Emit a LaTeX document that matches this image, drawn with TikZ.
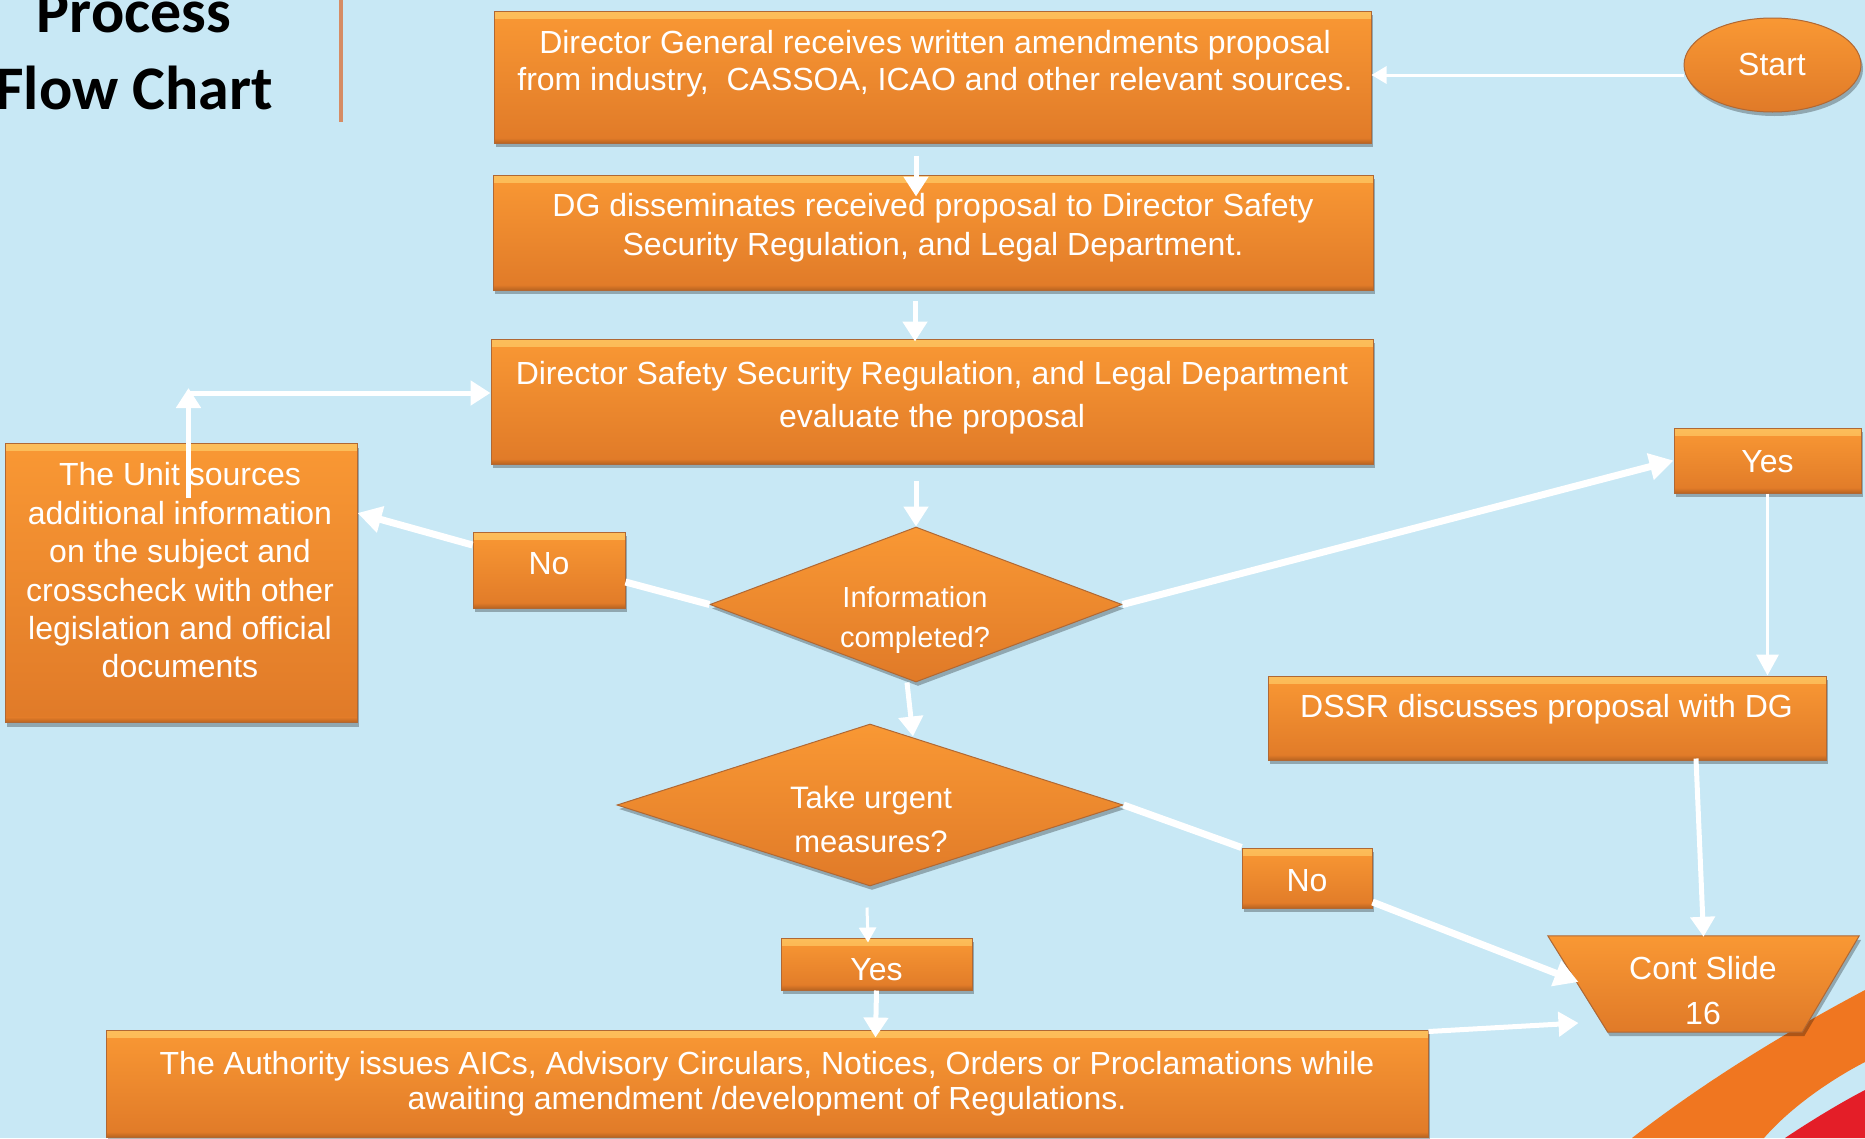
\documentclass[tikz,border=0pt]{standalone}
\usepackage{fontspec}
\setmainfont{Liberation Sans}
\newfontfamily\titlefont{Carlito}
\usetikzlibrary{arrows.meta,shapes.geometric,shadows}
\definecolor{bg}{RGB}{200,232,245}
\definecolor{otop}{RGB}{249,152,52}
\definecolor{obot}{RGB}{224,122,40}
\definecolor{oedge}{RGB}{176,104,52}
\definecolor{obevel}{RGB}{252,190,90}
\definecolor{divline}{RGB}{214,140,100}
\definecolor{swoosh}{RGB}{240,118,32}
\definecolor{swred}{RGB}{228,30,40}
\begin{document}
\begin{tikzpicture}[x=1pt,y=-1pt,
  shp/.style={draw=oedge, line width=1pt, top color=otop, bottom color=obot, inner sep=0pt,
    drop shadow={shadow xshift=2pt, shadow yshift=-4pt, fill=black, opacity=0.28}},
  box/.style={shp, rectangle,
    path picture={\shade[top color=obevel, bottom color=otop] (path picture bounding box.north west) rectangle ([yshift=-7pt]path picture bounding box.north east);
      \shade[top color=obot, bottom color=obot!82!black] ([yshift=5pt]path picture bounding box.south west) rectangle (path picture bounding box.south east);}},
  dia/.style={shp, diamond},
  ell/.style={shp, ellipse},
  frame/.style={rectangle, inner sep=0pt},
  txt/.style={text=white, align=center, inner sep=0pt, font=\fontsize{32}{37}\selectfont},
  ttl/.style={text=black, align=center, inner sep=0pt, font=\titlefont\bfseries\fontsize{62}{77}\selectfont},
  arr/.style={draw=white, line width=5pt, -{Triangle[length=20pt,width=24pt]}},
  thickarr/.style={draw=white, line width=7pt, -{Triangle[length=24pt,width=26pt]}},
  thinarr/.style={draw=white, line width=3pt, -{Triangle[length=15pt,width=17pt]}},
  thinbig/.style={draw=white, line width=3.5pt, -{Triangle[length=21pt,width=22pt]}},
  link/.style={draw=white, line width=7pt}
]
\useasboundingbox (0,0) rectangle (1865,1138);
\fill[bg] (0,0) rectangle (1865,1138);
% decorative swoosh
\fill[swoosh] (1632,1138) .. controls (1700,1085) and (1780,1035) .. (1865,990) -- (1865,1062) .. controls (1830,1080) and (1790,1108) .. (1764,1138) -- cycle;
\fill[swred] (1785,1138) .. controls (1812,1120) and (1840,1103) .. (1865,1090) -- (1865,1138) -- cycle;
% title
\node[ttl] (title) at (134,51) {Process\\Flow Chart};
\draw[divline, line width=4pt] (341,0) -- (341,122);

% shapes
\node[ell, minimum width=177pt, minimum height=94pt] (start) at (1772.5,65) {};
\node[txt] (startt) at (1772,64) {Start};
\node[box, minimum width=877pt, minimum height=132pt] (b1) at (932.5,77) {};
\node[txt] (t1) at (935,63.5) {Director General receives written amendments proposal\\from industry,~ CASSOA, ICAO and other relevant sources.};
\node[box, minimum width=880pt, minimum height=115pt] (b2) at (933,232.5) {};
\node[txt, font=\fontsize{32}{39}\selectfont] (t2) at (933,228) {DG disseminates received proposal to Director Safety\\Security Regulation, and Legal Department.};
\node[box, minimum width=882pt, minimum height=125pt] (b3) at (932,401.5) {};
\node[txt, font=\fontsize{32}{43}\selectfont] (t3) at (932,397.5) {Director Safety Security Regulation, and Legal Department\\evaluate the proposal};
\node[box, minimum width=352pt, minimum height=279pt] (unit) at (181,583) {};
\node[txt, font=\fontsize{32}{38.4}\selectfont] (tu) at (180,570.5) {The Unit sources\\additional information\\on the subject and\\crosscheck with other\\legislation and official\\documents};
\node[box, minimum width=152pt, minimum height=76pt] (no1) at (549,570) {};
\node[txt] (tn1) at (549,564) {No};
\node[dia, minimum width=412pt, minimum height=155pt] (d1) at (916,604.5) {};
\node[txt, font=\fontsize{29}{40}\selectfont] (td1) at (915,619.5) {Information\\completed?};
\node[dia, minimum width=506pt, minimum height=162pt] (d2) at (870,805) {};
\node[txt, font=\fontsize{31}{44}\selectfont] (td2) at (871,819.5) {Take urgent\\measures?};
\node[box, minimum width=187pt, minimum height=65pt] (y1) at (1767.5,460.5) {};
\node[txt] (ty1) at (1767.5,462) {Yes};
\node[box, minimum width=558pt, minimum height=84pt] (dssr) at (1547,718) {};
\node[txt] (tds) at (1546.5,709.5) {DSSR discusses proposal with DG};
\node[box, minimum width=130pt, minimum height=60pt] (no2) at (1307,878) {};
\node[txt] (tn2) at (1307,880.5) {No};
\node[box, minimum width=191pt, minimum height=52pt] (y2) at (876.5,964) {};
\node[txt] (ty2) at (876.5,969.5) {Yes};
\node[box, minimum width=1322pt, minimum height=107pt] (auth) at (767,1083.5) {};
\node[txt, font=\fontsize{32}{35}\selectfont] (ta) at (767,1084) {The Authority issues AICs, Advisory Circulars, Notices, Orders or Proclamations while\\awaiting amendment /development of Regulations.};
\node[frame, minimum width=311pt, minimum height=96pt] (cont) at (1703.5,984) {};
\path[shp] (cont.north west) -- (cont.north east) -- ([xshift=-57pt]cont.south east) -- ([xshift=60pt]cont.south west) -- cycle;
\node[txt, font=\fontsize{32}{45}\selectfont] (tc) at (1703,991) {Cont Slide\\16};

% connectors
\draw[thinarr] ([yshift=-10pt]start.west) -- ([yshift=2pt]b1.east);
\draw[arr] ([xshift=-16.5pt,yshift=-12pt]b1.south) -- ([xshift=-17pt,yshift=-22pt]b2.north);
\draw[arr] ([xshift=-18pt,yshift=-10pt]b2.south) -- ([xshift=-17pt,yshift=-3pt]b3.north);
\draw[arr] ([xshift=-16pt,yshift=-16pt]b3.south) -- (d1.north);
\draw[thickarr] (d1.east) -- (y1.west);
\draw[link] (d1.west) -- ([yshift=-12pt]no1.east);
\draw[thickarr] ([yshift=25pt]no1.west) -- ([yshift=70pt]unit.east);
\coordinate (up) at ([xshift=7.5pt,yshift=50pt]unit.north);
\draw[arr] ([xshift=7.5pt,yshift=-55pt]unit.north) -- ([xshift=7.5pt,yshift=55pt]unit.north);
\draw[arr] (up) -- (up -| b3.west);
\draw[thinbig] (y1.south) -- (y1.south |- dssr.north);
\draw[arr] ([xshift=149pt,yshift=2pt]dssr.south) -- ([yshift=-1pt]cont.north);
\draw[arr] ([xshift=-9pt]d1.south) -- ([xshift=43pt,yshift=-13pt]d2.north);
\draw[link] (d2.east) -- (no2.north west);
\draw[thickarr] ([yshift=-24pt]no2.east) -- ([xshift=-125pt,yshift=2pt]cont.center);
\draw[thinarr] ([xshift=-3pt,yshift=-21pt]d2.south) -- ([xshift=-8.5pt,yshift=-5pt]y2.north);
\coordinate (yb) at (auth.north -| y2.south);
\draw[arr] (y2.south) -- ([xshift=-1pt,yshift=-8pt]yb);
\draw[arr] ([yshift=-2pt]auth.north east) -- ([xshift=-125pt,yshift=-39pt]cont.center);
\end{tikzpicture}
\end{document}
